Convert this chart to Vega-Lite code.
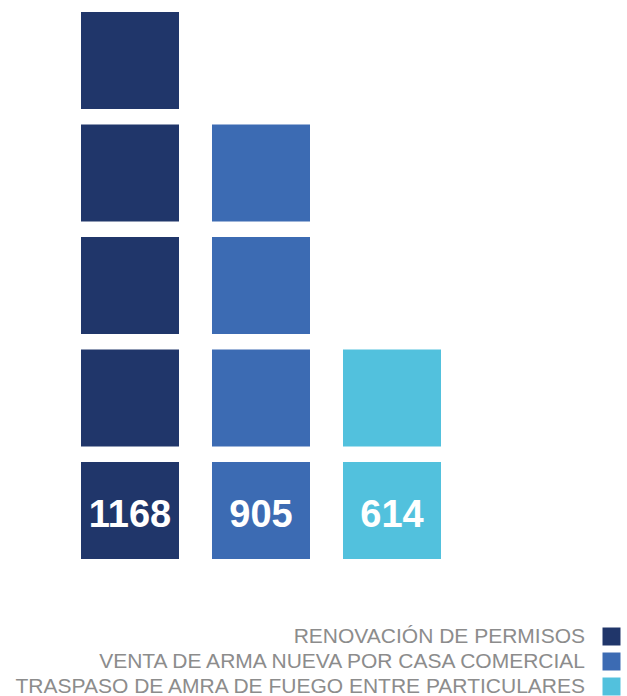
{
  "$schema": "https://vega.github.io/schema/vega-lite/v6.json",
  "width": 360,
  "height": 547,
  "autosize": {"type": "none"},
  "padding": {"left": 81, "top": 12, "right": 186, "bottom": 137},
  "background": "white",
  "config": {"view": {"stroke": null}},
  "datasets": {
    "squares": [
      {"cat": "RENOVACIÓN DE PERMISOS", "row": 1},
      {"cat": "RENOVACIÓN DE PERMISOS", "row": 2},
      {"cat": "RENOVACIÓN DE PERMISOS", "row": 3},
      {"cat": "RENOVACIÓN DE PERMISOS", "row": 4},
      {"cat": "RENOVACIÓN DE PERMISOS", "row": 5},
      {"cat": "VENTA DE ARMA NUEVA POR CASA COMERCIAL", "row": 1},
      {"cat": "VENTA DE ARMA NUEVA POR CASA COMERCIAL", "row": 2},
      {"cat": "VENTA DE ARMA NUEVA POR CASA COMERCIAL", "row": 3},
      {"cat": "VENTA DE ARMA NUEVA POR CASA COMERCIAL", "row": 4},
      {"cat": "TRASPASO DE AMRA DE FUEGO ENTRE PARTICULARES", "row": 1},
      {"cat": "TRASPASO DE AMRA DE FUEGO ENTRE PARTICULARES", "row": 2}
    ],
    "totals": [
      {"cat": "RENOVACIÓN DE PERMISOS", "row": 1, "value": 1168},
      {"cat": "VENTA DE ARMA NUEVA POR CASA COMERCIAL", "row": 1, "value": 905},
      {"cat": "TRASPASO DE AMRA DE FUEGO ENTRE PARTICULARES", "row": 1, "value": 614}
    ]
  },
  "encoding": {
    "x": {
      "field": "cat", "type": "nominal",
      "scale": {"domain": ["RENOVACIÓN DE PERMISOS", "VENTA DE ARMA NUEVA POR CASA COMERCIAL", "TRASPASO DE AMRA DE FUEGO ENTRE PARTICULARES"], "paddingInner": 0.2519, "paddingOuter": 0},
      "axis": null
    },
    "y": {
      "field": "row", "type": "ordinal", "sort": "descending",
      "scale": {"domain": [5, 4, 3, 2, 1], "paddingInner": 0.138, "paddingOuter": 0},
      "axis": null
    }
  },
  "layer": [
    {
      "data": {"name": "squares"},
      "mark": {"type": "rect"},
      "encoding": {
        "color": {
          "field": "cat", "type": "nominal", "title": null,
          "scale": {"domain": ["RENOVACIÓN DE PERMISOS", "VENTA DE ARMA NUEVA POR CASA COMERCIAL", "TRASPASO DE AMRA DE FUEGO ENTRE PARTICULARES"], "range": ["#20366A", "#3C6BB3", "#52C1DD"]},
          "legend": {
            "orient": "none",
            "legendX": 520,
            "legendY": 614,
            "padding": 0,
            "symbolType": "square",
            "symbolSize": 324,
            "symbolStrokeWidth": 0,
            "symbolOpacity": 1,
            "labelAlign": "right",
            "labelOffset": -37,
            "labelFont": "Liberation Sans",
            "labelFontSize": 21,
            "labelColor": "#8C8C8C",
            "labelLimit": 1000,
            "rowPadding": 3
          }
        }
      }
    },
    {
      "data": {"name": "totals"},
      "mark": {"type": "text", "font": "Liberation Sans", "fontWeight": "bold", "fontSize": 38, "color": "white", "baseline": "middle", "dy": 5},
      "encoding": {"text": {"field": "value", "type": "quantitative"}}
    }
  ]
}
